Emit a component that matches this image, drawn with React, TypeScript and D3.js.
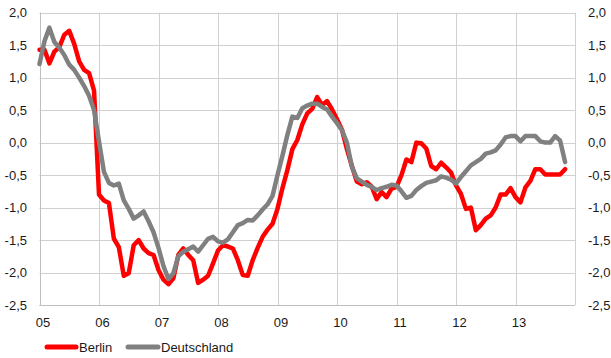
import React from "react";
import * as d3 from "d3";

const yearLabels = ["05", "06", "07", "08", "09", "10", "11", "12", "13"];
const yTicks = [-2.5, -2.0, -1.5, -1.0, -0.5, 0.0, 0.5, 1.0, 1.5, 2.0];

// monthly values, Jan 2005 .. Nov 2013
const berlin = [
  1.43, 1.43, 1.22, 1.40, 1.47, 1.66, 1.72, 1.52, 1.25, 1.12, 1.07, 0.80,
  -0.80, -0.89, -0.93, -1.48, -1.61, -2.05, -2.01, -1.58, -1.50, -1.63, -1.70, -1.73,
  -1.96, -2.11, -2.18, -2.09, -1.73, -1.63, -1.73, -1.81, -2.16, -2.11, -2.05, -1.86,
  -1.66, -1.58, -1.60, -1.63, -1.81, -2.04, -2.05, -1.81, -1.62, -1.45, -1.34, -1.25,
  -1.02, -0.70, -0.42, -0.10, 0.04, 0.28, 0.45, 0.52, 0.70, 0.58, 0.64, 0.51,
  0.36, 0.20, -0.10, -0.36, -0.60, -0.64, -0.61, -0.68, -0.87, -0.76, -0.84, -0.71,
  -0.68, -0.50, -0.26, -0.30, 0.00, -0.01, -0.09, -0.36, -0.41, -0.31, -0.38, -0.46,
  -0.66, -0.79, -1.02, -1.00, -1.35, -1.27, -1.17, -1.12, -1.00, -0.80, -0.80, -0.70,
  -0.84, -0.92, -0.69, -0.59, -0.41, -0.41, -0.49, -0.49, -0.49, -0.49, -0.41,
];

const deutschland = [
  1.21, 1.56, 1.77, 1.55, 1.46, 1.35, 1.20, 1.12, 1.00, 0.87, 0.72, 0.50,
  0.02, -0.45, -0.62, -0.66, -0.63, -0.89, -1.02, -1.17, -1.12, -1.06, -1.21, -1.38,
  -1.62, -1.90, -2.10, -2.01, -1.75, -1.68, -1.64, -1.60, -1.68, -1.58, -1.48, -1.45,
  -1.52, -1.54, -1.49, -1.38, -1.27, -1.24, -1.19, -1.20, -1.12, -1.03, -0.95, -0.82,
  -0.50, -0.20, 0.12, 0.40, 0.38, 0.53, 0.57, 0.60, 0.60, 0.55, 0.51, 0.40,
  0.30, 0.19, 0.00, -0.37, -0.55, -0.60, -0.65, -0.68, -0.73, -0.70, -0.68, -0.65,
  -0.66, -0.75, -0.85, -0.82, -0.73, -0.67, -0.62, -0.60, -0.58, -0.52, -0.54, -0.57,
  -0.63, -0.53, -0.44, -0.35, -0.30, -0.25, -0.17, -0.15, -0.12, -0.03, 0.08, 0.10,
  0.10, 0.02, 0.10, 0.10, 0.10, 0.02, 0.00, 0.00, 0.10, 0.03, -0.30,
];

const seriesNames = ["Berlin", "Deutschland"];
const seriesColors = ["#ff0000", "#808080"];

const W = 611;
const H = 358;
const FONT = "'Liberation Sans', Arial, sans-serif";

export default function App() {
  const x = d3.scaleLinear().domain([0, 108]).range([39.5, 575]);
  const y = d3.scaleLinear().domain([-2.5, 2.0]).range([305, 12.7]);
  const line = d3
    .line<number>()
    .x((_, i) => x(i))
    .y((d) => y(d));
  const fmt = (v: number) => v.toFixed(1).replace(".", ",");
  const yearTicks = d3.range(0, 109, 12);

  return (
    <svg
      width={W}
      height={H}
      style={{ position: "absolute", left: 0, top: 0, background: "#fff" }}
      fontFamily={FONT}
    >
      <rect x={0} y={0} width={W} height={H} fill="#fff" />
      {yTicks.map((t) => (
        <line
          key={"h" + t}
          x1={x(0)}
          x2={x(108)}
          y1={Math.round(y(t)) + 0.5}
          y2={Math.round(y(t)) + 0.5}
          stroke="#d0d0d0"
          strokeWidth={1}
        />
      ))}
      {yearTicks.map((m) => (
        <line
          key={"v" + m}
          x1={Math.round(x(m)) + 0.5}
          x2={Math.round(x(m)) + 0.5}
          y1={y(2.0)}
          y2={y(-2.5)}
          stroke="#d0d0d0"
          strokeWidth={1}
        />
      ))}
      <line x1={Math.round(x(0)) + 0.5} x2={Math.round(x(0)) + 0.5} y1={y(2.0)} y2={y(-2.5)} stroke="#bfbfbf" />
      <line x1={x(0)} x2={x(108)} y1={Math.round(y(-2.5)) + 0.5} y2={Math.round(y(-2.5)) + 0.5} stroke="#bfbfbf" />
      {yTicks.map((t) => (
        <text key={"l" + t} x={27} y={y(t) + 4.5} textAnchor="end" fontSize={13} fill="#1a1a1a">
          {fmt(t)}
        </text>
      ))}
      {yTicks.map((t) => (
        <text key={"r" + t} x={588} y={y(t) + 4.5} textAnchor="start" fontSize={13} fill="#1a1a1a">
          {fmt(t)}
        </text>
      ))}
      {yearLabels.map((lab, i) => (
        <text key={"x" + lab} x={x(i * 12) + 3.5} y={327} textAnchor="middle" fontSize={13} fill="#1a1a1a">
          {lab}
        </text>
      ))}
      {[berlin, deutschland].map((s, k) => (
        <path
          key={"s" + k}
          d={line(s) || ""}
          fill="none"
          stroke={seriesColors[k]}
          strokeWidth={4.5}
          strokeLinejoin="round"
          strokeLinecap="round"
        />
      ))}
      <g>
        <line x1={47} x2={76} y1={347} y2={347} stroke={seriesColors[0]} strokeWidth={5} strokeLinecap="round" />
        <text x={79} y={351.5} fontSize={13} fill="#1a1a1a">
          {seriesNames[0]}
        </text>
        <line x1={128} x2={158} y1={347} y2={347} stroke={seriesColors[1]} strokeWidth={5} strokeLinecap="round" />
        <text x={161} y={351.5} fontSize={13} fill="#1a1a1a">
          {seriesNames[1]}
        </text>
      </g>
    </svg>
  );
}
